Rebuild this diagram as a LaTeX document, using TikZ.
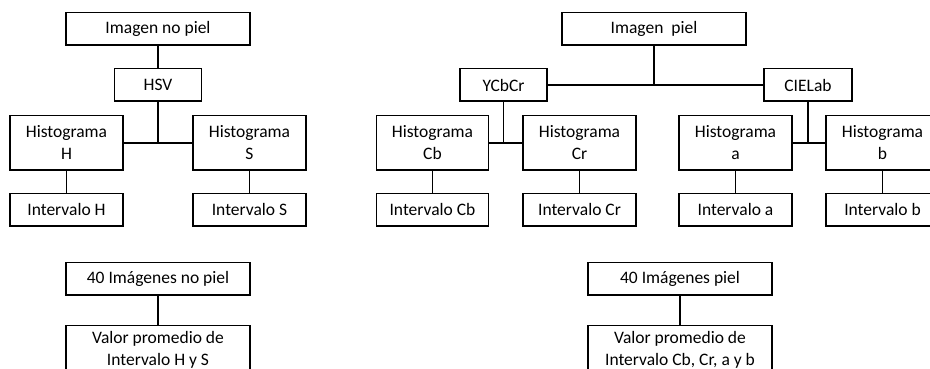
\documentclass[tikz,border=0pt]{standalone}
\usepackage{fontspec}
\setmainfont{Carlito}
\usepackage{tikz}
\usetikzlibrary{positioning}
\usetikzlibrary{calc}

\begin{document}
\begin{tikzpicture}[
	x=1pt, y=1pt,
	line width=1.5pt,
	block/.style={
		draw,
		line width=1.5pt,
		inner sep=0pt,
		align=center,
		font=\fontsize{17.5}{22}\selectfont,
		minimum height=32.5pt
	},
	tallBlock/.style={
		block,
		minimum height=54pt
	},
	raisedText/.style={
		align=center,
		font=\fontsize{17.5}{22}\selectfont,
		yshift=2.5pt
	}
]
\useasboundingbox (0,0) rectangle (930,-369);

% --- no piel

\node[
	block,
	minimum width=184pt
] (imgNoPiel) at (158,-29) {Imagen no piel};

\node[
	block,
	minimum width=87pt,
	below=22pt of imgNoPiel
] (hsv) {HSV};

\node[
	tallBlock,
	minimum width=113pt,
	below=13pt of hsv,
	xshift=-91.5pt
] (histH) {Histograma\\H};

\node[
	tallBlock,
	minimum width=113pt,
	below=13pt of hsv,
	xshift=91.5pt
] (histS) {Histograma\\S};

\node[
	block,
	minimum width=113pt,
	below=22pt of histH
] (intH) {Intervalo H};

\node[
	block,
	minimum width=113pt,
	below=22pt of histS
] (intS) {Intervalo S};

\node[
	block,
	minimum width=184pt,
	below=35pt of intH,
	xshift=91.5pt
] (noPiel40) {40 Imágenes no piel};

\node[
	tallBlock,
	minimum width=184pt,
	below=29pt of noPiel40,
	label={[raisedText]center:Valor promedio de\\Intervalo H y S}
] (valorHS) {};

% --- piel

\node[
	block,
	minimum width=184pt
] (imgPiel) at (654,-29) {Imagen\ \ piel};

\node[
	block,
	minimum width=87pt,
	below=22pt of imgPiel,
	xshift=-150.5pt
] (ycbcr) {YCbCr};

\node[
	block,
	minimum width=88pt,
	below=22pt of imgPiel,
	xshift=154pt
] (cielab) {CIELab};

\node[
	tallBlock,
	minimum width=112pt,
	below=13pt of ycbcr,
	xshift=-71pt
] (histCb) {Histograma\\Cb};

\node[
	tallBlock,
	minimum width=113pt,
	below=13pt of ycbcr,
	xshift=76pt
] (histCr) {Histograma\\Cr};

\node[
	tallBlock,
	minimum width=113pt,
	below=13pt of cielab,
	xshift=-72.5pt
] (histA) {Histograma\\a};

\node[
	tallBlock,
	minimum width=113pt,
	below=13pt of cielab,
	xshift=74.5pt
] (histB) {Histograma\\b};

\node[
	block,
	minimum width=112pt,
	below=22pt of histCb
] (intCb) {Intervalo Cb};

\node[
	block,
	minimum width=113pt,
	below=22pt of histCr
] (intCr) {Intervalo Cr};

\node[
	block,
	minimum width=113pt,
	below=22pt of histA
] (intA) {Intervalo a};

\node[
	block,
	minimum width=113pt,
	below=22pt of histB
] (intB) {Intervalo b};

\node[
	block,
	minimum width=184pt,
	below=35pt of intCr,
	xshift=100.5pt
] (piel40) {40 Imágenes piel};

\node[
	tallBlock,
	minimum width=184pt,
	below=29pt of piel40,
	label={[raisedText]center:Valor promedio de\\Intervalo Cb, Cr, a y b}
] (valorAll) {};

% --- lines no piel

\draw (imgNoPiel.south) -- (hsv.north);
\draw (hsv.south) -- (hsv.south |- histH.east);
\draw (histH.east) -- (histS.west);
\draw (histH.south) -- (intH.north);
\draw (histS.south) -- (intS.north);
\draw (noPiel40.south) -- (valorHS.north);

% --- lines piel

\draw (imgPiel.south) -- (imgPiel.south |- ycbcr.east);
\draw (ycbcr.east) -- (cielab.west);
\draw (ycbcr.south) -- (ycbcr.south |- histCb.east);
\draw (histCb.east) -- (histCr.west);
\draw (cielab.south) -- (cielab.south |- histA.east);
\draw (histA.east) -- (histB.west);
\draw (histCb.south) -- (intCb.north);
\draw (histCr.south) -- (intCr.north);
\draw (histA.south) -- (intA.north);
\draw (histB.south) -- (intB.north);
\draw (piel40.south) -- (valorAll.north);

\end{tikzpicture}
\end{document}
